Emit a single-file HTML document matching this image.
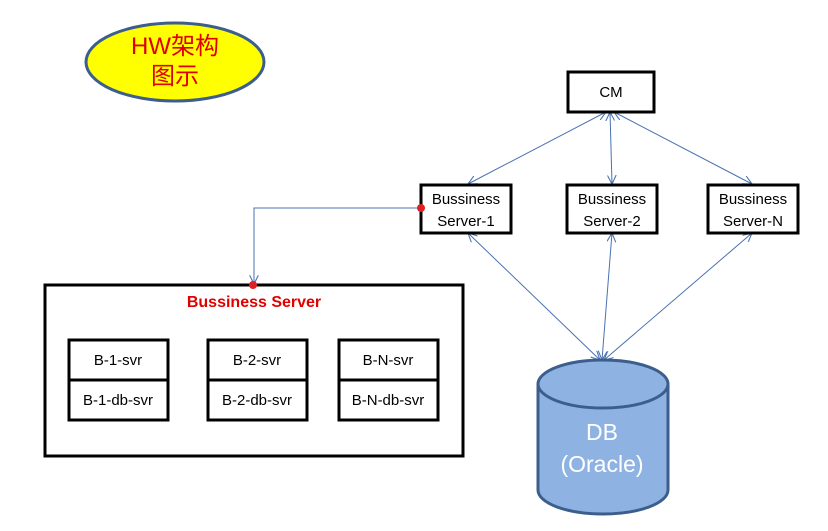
<!DOCTYPE html>
<html><head><meta charset="utf-8"><style>
body{margin:0;background:#fff;}
svg{display:block;}
text{font-family:"Liberation Sans","Noto Sans CJK SC",sans-serif;}
</style></head><body>
<svg width="828" height="531" viewBox="0 0 828 531" xmlns="http://www.w3.org/2000/svg">
<defs>
<marker id="a" viewBox="0 0 10 10" refX="10" refY="5" markerWidth="9" markerHeight="9" orient="auto-start-reverse" markerUnits="userSpaceOnUse">
<path d="M0,0 L10,5 L0,10" fill="none" stroke="#4a72b0" stroke-width="1.2"/></marker>
</defs>
<ellipse cx="175" cy="62" rx="89" ry="39" fill="#ffff00" stroke="#3c5e8c" stroke-width="3"/>
<text x="175" y="54" font-size="24" fill="#e00000" text-anchor="middle">HW架构</text>
<text x="175" y="84" font-size="24" fill="#e00000" text-anchor="middle">图示</text>

<g stroke="#4a72b0" stroke-width="1" fill="none">
<line x1="606" y1="112" x2="468" y2="184" marker-start="url(#a)" marker-end="url(#a)"/>
<line x1="610" y1="112" x2="612" y2="184" marker-start="url(#a)" marker-end="url(#a)"/>
<line x1="614" y1="112" x2="752" y2="184" marker-start="url(#a)" marker-end="url(#a)"/>
<line x1="468" y1="233" x2="600" y2="360" marker-start="url(#a)" marker-end="url(#a)"/>
<line x1="612" y1="233" x2="602" y2="360" marker-start="url(#a)" marker-end="url(#a)"/>
<line x1="752" y1="233" x2="604" y2="360" marker-start="url(#a)" marker-end="url(#a)"/>
<polyline points="421,208 254,208 254,284" marker-end="url(#a)"/>
</g>

<g fill="#fff" stroke="#000" stroke-width="3">
<rect x="568" y="72" width="86" height="40"/>
<rect x="421" y="185" width="90" height="48"/>
<rect x="567" y="185" width="90" height="48"/>
<rect x="708" y="185" width="90" height="48"/>
<rect x="45" y="285" width="418" height="171"/>
<rect x="69" y="340" width="99" height="80"/>
<rect x="208" y="340" width="99" height="80"/>
<rect x="339" y="340" width="99" height="80"/>
<line x1="69" y1="380" x2="168" y2="380"/>
<line x1="208" y1="380" x2="307" y2="380"/>
<line x1="339" y1="380" x2="438" y2="380"/>
</g>
<circle cx="421" cy="208" r="4" fill="#e02020"/>
<circle cx="253" cy="285" r="4" fill="#e02020"/>

<g font-size="15" fill="#000" text-anchor="middle">
<text x="611" y="97">CM</text>
<text x="466" y="204">Bussiness</text><text x="466" y="226">Server-1</text>
<text x="612" y="204">Bussiness</text><text x="612" y="226">Server-2</text>
<text x="753" y="204">Bussiness</text><text x="753" y="226">Server-N</text>
<text x="118" y="365">B-1-svr</text><text x="118" y="405">B-1-db-svr</text>
<text x="257" y="365">B-2-svr</text><text x="257" y="405">B-2-db-svr</text>
<text x="388" y="365">B-N-svr</text><text x="388" y="405">B-N-db-svr</text>
</g>
<text x="254" y="307" font-size="16" font-weight="bold" fill="#e00000" text-anchor="middle">Bussiness Server</text>

<path d="M538,384 L538,490 A65,24 0 0 0 668,490 L668,384" fill="#8eb3e3" stroke="#3c5e8c" stroke-width="3"/>
<ellipse cx="603" cy="384" rx="65" ry="24" fill="#8eb3e3" stroke="#3c5e8c" stroke-width="3"/>
<text x="602" y="440" font-size="23" fill="#fff" text-anchor="middle">DB</text>
<text x="602" y="472" font-size="23" fill="#fff" text-anchor="middle">(Oracle)</text>
</svg>
</body></html>
